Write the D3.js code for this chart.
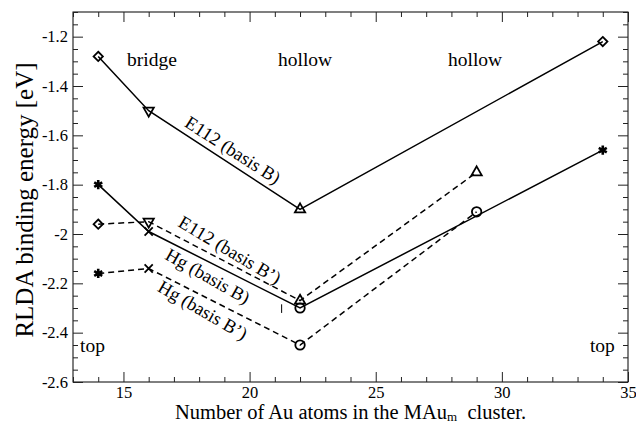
<!DOCTYPE html>
<html>
<head>
<meta charset="utf-8">
<script src="https://cdn.jsdelivr.net/npm/d3@7"></script>
<style>
  body { margin: 0; background: #fff; }
  svg { display: block; font-family: "Liberation Serif", "DejaVu Serif", serif; }
</style>
</head>
<body>
<svg width="636" height="423"></svg>
<script>
// Data
const atomsE112B = [14, 16, 22, 34];
const energyE112B = [-1.28, -1.50, -1.90, -1.22];
const markersE112B = ["diamond", "triangleDown", "triangle", "diamond"];

const atomsE112Bp = [14, 16, 22, 29];
const energyE112Bp = [-1.96, -1.95, -2.27, -1.75];
const markersE112Bp = ["diamond", "triangleDown", "triangle", "triangle"];

const atomsHgB = [14, 16, 22, 34];
const energyHgB = [-1.80, -1.99, -2.30, -1.66];
const markersHgB = ["star", "x", "circle", "star"];

const atomsHgBp = [14, 16, 22, 29];
const energyHgBp = [-2.16, -2.14, -2.45, -1.91];
const markersHgBp = ["star", "x", "circle", "circle"];

const xTicks = [15, 20, 25, 30, 35];
const yTicks = [-2.6, -2.4, -2.2, -2, -1.8, -1.6, -1.4, -1.2];

const siteLabels = ["bridge", "hollow", "hollow", "top", "top"];
const siteX = [16.13, 22.2, 28.94, 13.28, 34.48];
const siteY = [-1.319, -1.319, -1.319, -2.478, -2.478];

const curveLabels = ["E112 (basis B)", "E112 (basis B\u2019)", "Hg (basis B)", "Hg (basis B\u2019)"];
const curveLabelX = [19.34, 19.22, 18.35, 18.15];
const curveLabelY = [-1.659, -2.064, -2.170, -2.308];

const svg = d3.select("svg");
const x = d3.scaleLinear().domain([13, 35]).range([73, 628]);
const y = d3.scaleLinear().domain([-2.6, -1.1]).range([382, 12]);

const fmt = d => String(+d.toFixed(2));

// Frame
svg.append("rect")
    .attr("x", x(13)).attr("y", y(-1.1))
    .attr("width", x(35) - x(13)).attr("height", y(-2.6) - y(-1.1))
    .attr("fill", "none").attr("stroke", "#000").attr("stroke-width", 1);

// Axes (ticks point inward)
const xMinor = d3.range(13, 35.01, 1).filter(v => v % 5 !== 0);
const yMinor = d3.range(-2.6, -1.099, 0.05).map(v => +v.toFixed(2)).filter(v => Math.abs(v * 5 - Math.round(v * 5)) > 1e-6);

function axis(gen, tickVals, size, labels) {
    return gen.tickValues(tickVals).tickSize(size).tickPadding(labels ? 4 : 0)
        .tickFormat(labels ? fmt : () => "");
}

const gBottom = svg.append("g").attr("transform", `translate(0,${y(-2.6)})`);
gBottom.append("g").call(axis(d3.axisBottom(x), xTicks, -10, true));
gBottom.append("g").call(axis(d3.axisBottom(x), xMinor, -5, false));

const gTop = svg.append("g").attr("transform", `translate(0,${y(-1.1)})`);
gTop.append("g").call(axis(d3.axisTop(x), xTicks, -10, false));
gTop.append("g").call(axis(d3.axisTop(x), xMinor, -5, false));

const gLeft = svg.append("g").attr("transform", `translate(${x(13)},0)`);
gLeft.append("g").call(axis(d3.axisLeft(y), yTicks, -10, true).tickPadding(5));
gLeft.append("g").call(axis(d3.axisLeft(y), yMinor, -5, false));

const gRight = svg.append("g").attr("transform", `translate(${x(35)},0)`);
gRight.append("g").call(axis(d3.axisRight(y), yTicks, -10, false));
gRight.append("g").call(axis(d3.axisRight(y), yMinor, -5, false));

svg.selectAll(".domain").remove();
svg.selectAll(".tick line").attr("stroke", "#222");
svg.selectAll(".tick text")
    .attr("font-family", "Liberation Serif, serif")
    .attr("font-size", 16.5).attr("fill", "#000");

// Axis titles
svg.append("text")
    .attr("transform", `translate(24,${(y(-1.1) + y(-2.6)) / 2 + 3}) rotate(-90)`)
    .attr("text-anchor", "middle").attr("dy", "0.35em")
    .attr("font-size", 25)
    .text("RLDA binding energy [eV]");

const xt = svg.append("text")
    .attr("x", (x(13) + x(35)) / 2).attr("y", 419)
    .attr("text-anchor", "middle")
    .attr("font-size", 20.5);
xt.append("tspan").text("Number of Au atoms in the MAu");
xt.append("tspan").attr("font-size", 13).attr("dy", 1.5).text("m");
xt.append("tspan").attr("dy", -1.5).text("\u00a0 cluster.");

// Series
const series = [
    { xs: atomsE112B, ys: energyE112B, ms: markersE112B, dash: null },
    { xs: atomsE112Bp, ys: energyE112Bp, ms: markersE112Bp, dash: "6,4" },
    { xs: atomsHgB, ys: energyHgB, ms: markersHgB, dash: null },
    { xs: atomsHgBp, ys: energyHgBp, ms: markersHgBp, dash: "6,4" }
];

const line = d3.line().x(d => x(d[0])).y(d => y(d[1]));

const shapes = {
    diamond: d3.symbol(d3.symbolDiamond2, 55),
    triangle: d3.symbol(d3.symbolTriangle2, 75),
    triangleDown: d3.symbol(d3.symbolTriangle2, 75),
    circle: d3.symbol(d3.symbolCircle, 70),
    star: d3.symbol(d3.symbolAsterisk, 60),
    x: d3.symbol(d3.symbolX, 45)
};

series.forEach(s => {
    const pts = s.xs.map((v, i) => [v, s.ys[i], s.ms[i]]);
    svg.append("path")
        .attr("d", line(pts))
        .attr("fill", "none").attr("stroke", "#000").attr("stroke-width", 1.5)
        .attr("stroke-dasharray", s.dash);

    svg.selectAll(null).data(pts).join("path")
        .attr("d", d => shapes[d[2]]())
        .attr("transform", d => `translate(${x(d[0])},${y(d[1])})` + (d[2] === "triangleDown" ? " rotate(180)" : ""))
        .attr("fill", "none").attr("stroke", "#000")
        .attr("stroke-width", d => d[2] === "star" ? 2.6 : 1.8);
});

// stray tick near 22
svg.append("line")
    .attr("x1", x(21.27)).attr("x2", x(21.27))
    .attr("y1", y(-2.285)).attr("y2", y(-2.32))
    .attr("stroke", "#000").attr("stroke-width", 1);

// Site labels
svg.selectAll(null).data(siteLabels).join("text")
    .attr("x", (d, i) => x(siteX[i])).attr("y", (d, i) => y(siteY[i]))
    .attr("text-anchor", (d, i) => i === 3 ? "start" : i === 4 ? "end" : "middle")
    .attr("font-size", 19.5)
    .text(d => d);

// Curve labels
const curveAngles = [32.7, 30.8, 29.6, 30.2];
svg.selectAll(null).data(curveLabels).join("text")
    .attr("transform", (d, i) => `translate(${x(curveLabelX[i])},${y(curveLabelY[i])}) rotate(${curveAngles[i]})`)
    .attr("text-anchor", "middle").attr("dy", "0.35em")
    .attr("font-size", 18.5)
    .text(d => d);
</script>
</body>
</html>
